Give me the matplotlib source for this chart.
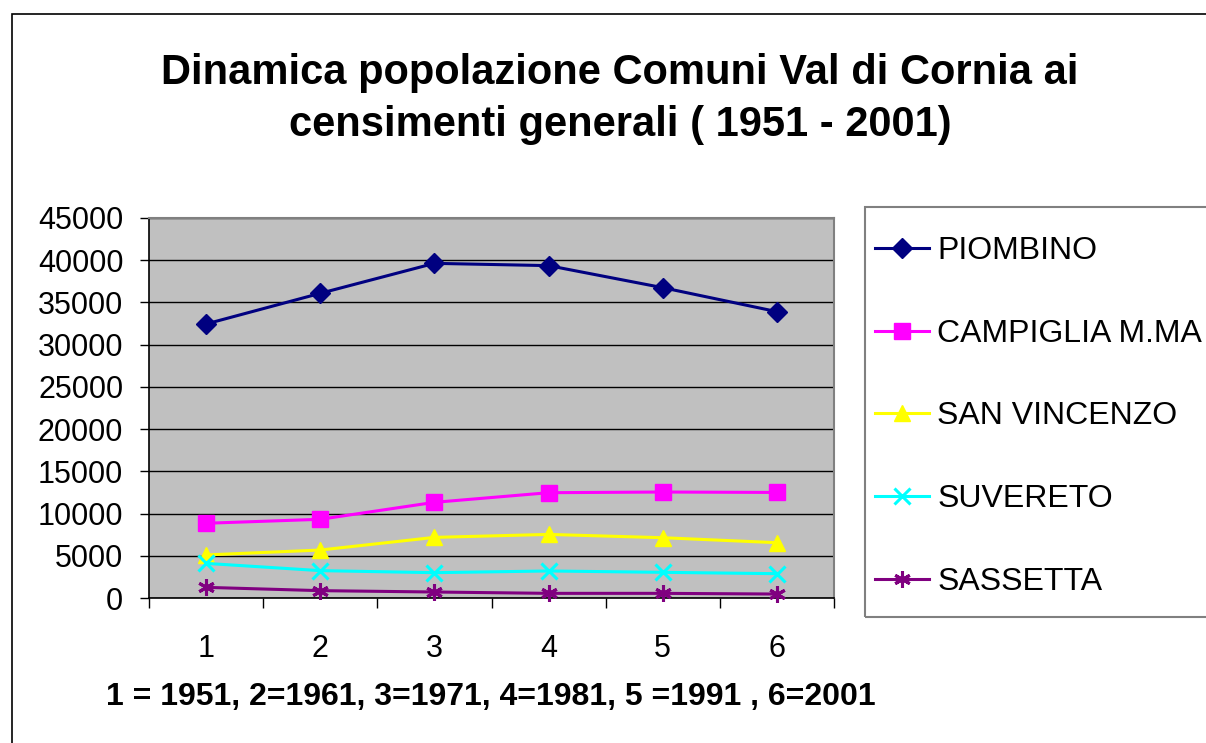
import matplotlib
matplotlib.use("Agg")
import matplotlib.pyplot as plt
from matplotlib.patches import Rectangle

plt.rcParams['font.family'] = ['Liberation Sans', 'DejaVu Sans']

# census index 1..6 (1=1951 ... 6=2001)
censimenti = [1, 2, 3, 4, 5, 6]

piombino = [32450, 36080, 39630, 39360, 36750, 33910]
campiglia = [8850, 9320, 11330, 12470, 12550, 12500]
san_vincenzo = [5100, 5680, 7180, 7530, 7140, 6550]
suvereto = [4100, 3240, 3000, 3200, 3040, 2880]
sassetta = [1260, 870, 710, 550, 550, 470]

serie = [
    ("PIOMBINO", piombino, "#000080", "D", 10),
    ("CAMPIGLIA M.MA", campiglia, "#FF00FF", "s", 11),
    ("SAN VINCENZO", san_vincenzo, "#FFFF00", "^", 12),
    ("SUVERETO", suvereto, "#00FFFF", "x", 11),
    ("SASSETTA", sassetta, "#800080", (6, 2, 0), 12),
]

yticks = list(range(0, 45001, 5000))

W, H = 1206, 743
fig = plt.figure(figsize=(W / 100, H / 100), dpi=100)
fig.patch.set_facecolor("white")

# chart area border (cut off at right and bottom like the original)
fig.add_artist(Rectangle((12 / W, -0.05), 1.2, 1 - 14 / H + 0.05,
                         transform=fig.transFigure, fill=False,
                         edgecolor="black", linewidth=1.2))

# legend box, also running off the right edge
fig.add_artist(Rectangle((865 / W, 1 - 617 / H), 0.4, (617 - 207) / H,
                         transform=fig.transFigure, fill=False,
                         edgecolor="#808080", linewidth=1.5))

# plot area: x 149..834, y 218..598 (pixels)
ax = fig.add_axes([149 / W, 1 - 598 / H, (834 - 149) / W, (598 - 218) / H])
ax.set_facecolor("#C0C0C0")

for nome, valori, colore, marker, ms in serie:
    thin = marker == "x" or isinstance(marker, tuple)
    ax.plot(censimenti, valori, color=colore, linewidth=2.2, marker=marker,
            markersize=ms, markeredgewidth=2.2 if thin else 1,
            markeredgecolor=colore, markerfacecolor=colore, label=nome,
            clip_on=False, zorder=3)

ax.set_xlim(0.5, 6.5)
ax.set_ylim(0, 45000)
ax.set_yticks(yticks)
ax.set_yticklabels([str(v) for v in yticks], fontsize=22)
ax.yaxis.grid(True, color="black", linewidth=1.0)
ax.set_axisbelow(True)

ax.set_xticks(censimenti)
ax.set_xticklabels([str(c) for c in censimenti], fontsize=22)
ax.set_xticks([0.5 + i for i in range(7)], minor=True)
ax.tick_params(axis="x", which="major", length=0, pad=26)
ax.tick_params(axis="x", which="minor", length=7, width=1, direction="out")
ax.tick_params(axis="y", length=6.5, width=1, pad=12)

for s in ("left", "bottom"):
    ax.spines[s].set_color("black")
    ax.spines[s].set_linewidth(1.2)
for s in ("top", "right"):
    ax.spines[s].set_color("#808080")
    ax.spines[s].set_linewidth(1.5)

fig.text(620 / W, 1 - 99 / H,
         "Dinamica popolazione Comuni Val di Cornia ai\ncensimenti generali ( 1951 - 2001)",
         ha="center", va="center", fontsize=30, fontweight="bold", linespacing=1.36)

fig.text(106 / W, 1 - 697 / H,
         "1 = 1951, 2=1961, 3=1971, 4=1981, 5 =1991 , 6=2001",
         ha="left", va="center", fontsize=23, fontweight="bold")

leg = fig.legend(loc="upper left", bbox_to_anchor=(875 / W, 1 - 236 / H),
                 fontsize=23, frameon=False, borderaxespad=0, borderpad=0,
                 handlelength=1.7, handletextpad=0.25, labelspacing=1.65,
                 markerscale=1.0)

fig.savefig("out.png", dpi=100)
